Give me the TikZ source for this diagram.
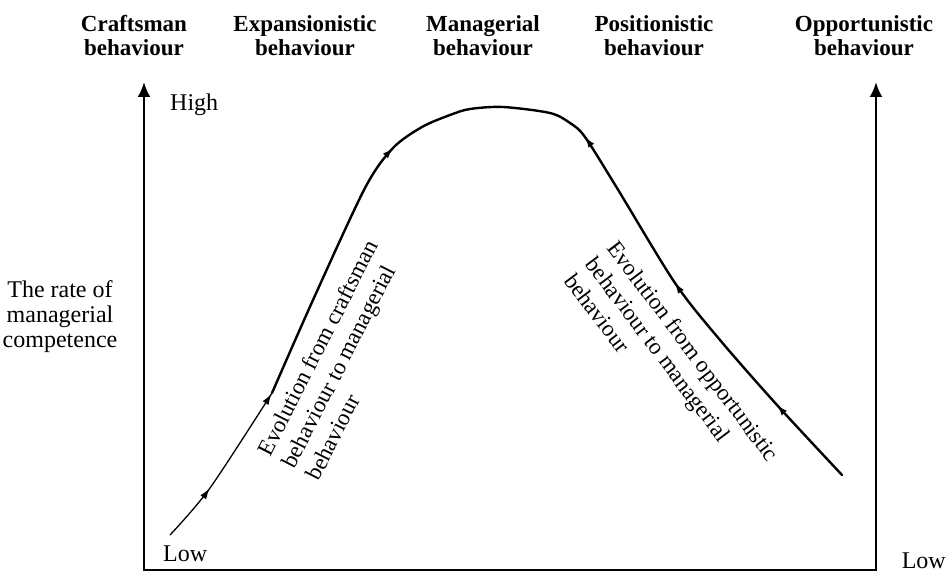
\documentclass[tikz,border=0pt]{standalone}
\usepackage{fontspec}
\setmainfont{Liberation Serif}
\usetikzlibrary{arrows.meta,decorations.markings}
\begin{document}
\begin{tikzpicture}[x=1pt,y=-1pt,
  axisline/.style={line width=2.6pt, line join=miter,
    {Latex[length=15pt,width=13pt]}-{Latex[length=15pt,width=13pt]}},
  thincurve/.style={line width=1.3pt, line cap=round, line join=round},
  thickcurve/.style={line width=2.4pt, line cap=round, line join=round},
  header/.style={font=\bfseries\fontsize{23}{24}\selectfont, align=center, inner sep=0pt, anchor=north},
  lbl/.style={font=\fontsize{24}{25}\selectfont, inner sep=0pt},
  slanted/.style={font=\fontsize{23}{27}\selectfont, align=left, inner sep=0pt, anchor=north west}
]
\useasboundingbox (0,0) rectangle (946,575);

% axes: two vertical arrows joined by the base line
\coordinate (ltop) at (144,82);
\coordinate (lbot) at (144,570);
\coordinate (rbot) at (876,570);
\coordinate (rtop) at (876,82);
\draw[axisline] (ltop) -- (lbot) -- (rbot) -- (rtop);

% behaviour headings
\node[header] (craft) at (134,15) {Craftsman\\behaviour};
\node[header] (expan) at (305,15) {Expansionistic\\behaviour};
\node[header] (manag) at (483,15) {Managerial\\behaviour};
\node[header] (posit) at (654,15) {Positionistic\\behaviour};
\node[header] (oppor) at (864,15) {Opportunistic\\behaviour};

% axis labels
\node[lbl, anchor=base west] (high) at (170,111) {High};
\node[lbl, anchor=base west] (lowl) at (163,561) {Low};
\node[lbl, anchor=base east] (lowr) at (946,568) {Low};
\node[lbl, align=center, anchor=north] (rate) at (60,280) {The rate of\\managerial\\competence};

% points of the competence curve
\coordinate (s)  at (170,535);
\coordinate (a1) at (210,488);
\coordinate (a2) at (272,393);
\coordinate (q1) at (313,300);
\coordinate (q2) at (365,188);
\coordinate (a3) at (393,148);
\coordinate (q3) at (422,127);
\coordinate (q4) at (450,115);
\coordinate (q5) at (470,109);
\coordinate (peak) at (503,107);
\coordinate (r1) at (550,113);
\coordinate (r2) at (570,123);
\coordinate (b1) at (585,137);
\coordinate (r3) at (617,188);
\coordinate (b2) at (675,283);
\coordinate (r4) at (720,340);
\coordinate (b3) at (777,405);
\coordinate (e)  at (842,475);

% lower, thin part of the rising branch
\draw[thincurve, postaction={decorate}, decoration={markings,
    mark=at position 0.35 with {\arrow{Latex[length=11pt,width=7pt]}},
    mark=at position 0.995 with {\arrow{Latex[length=11pt,width=7pt]}}}]
  plot[smooth] coordinates {(s) (a1) (a2)};

% upper branch over the peak and down to the right
\draw[thickcurve, postaction={decorate}, decoration={markings,
    mark=at position 0.301 with {\arrow{Latex[length=11pt,width=7pt]}},
    mark=at position 0.532 with {\arrowreversed{Latex[length=11pt,width=7pt]}},
    mark=at position 0.720 with {\arrowreversed{Latex[length=11pt,width=7pt]}},
    mark=at position 0.895 with {\arrowreversed{Latex[length=11pt,width=7pt]}}}]
  plot[smooth] coordinates {(a2) (q1) (q2) (a3) (q3) (q4) (q5) (peak)
    (r1) (r2) (b1) (r3) (b2) (r4) (b3) (e)};

% branch captions
\node[slanted, rotate=63] (upcap) at (256,450)
  {Evolution from craftsman\\behaviour to managerial\\behaviour};
\node[slanted, rotate=-53] (downcap) at (619.5,238.5)
  {Evolution from opportunistic\\behaviour to managerial\\behaviour};
\end{tikzpicture}
\end{document}
